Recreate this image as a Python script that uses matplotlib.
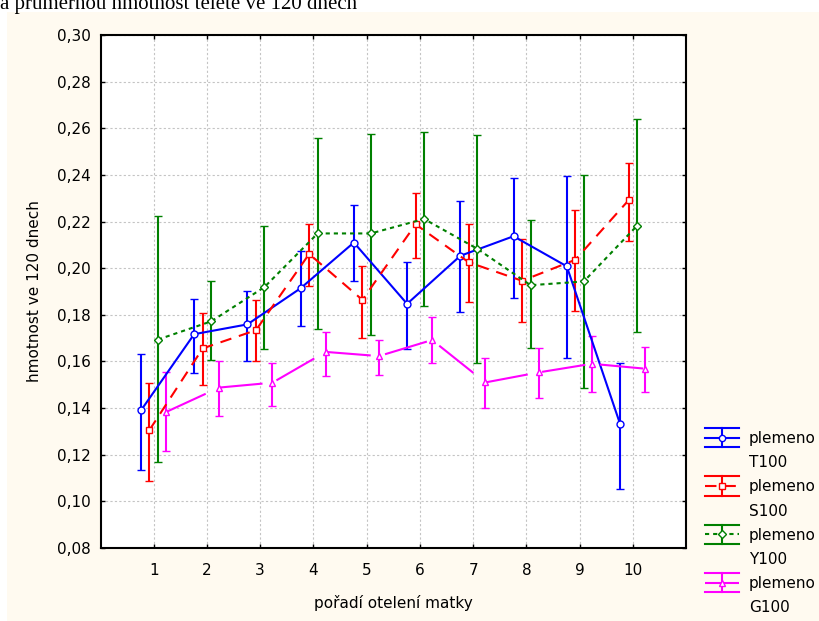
import matplotlib
matplotlib.use("Agg")
import matplotlib.pyplot as plt
from matplotlib.lines import Line2D
from matplotlib.patches import Rectangle
from matplotlib.legend_handler import HandlerBase

# Calving order (x axis) and mean calf weight at 120 days with interval bounds
poradi = [1, 2, 3, 4, 5, 6, 7, 8, 9, 10]

t100_mean = [0.1390, 0.1717, 0.1759, 0.1914, 0.2110, 0.1847, 0.2053, 0.2137, 0.2008, 0.1333]
t100_hi = [0.1634, 0.1866, 0.1901, 0.2075, 0.2272, 0.2028, 0.2290, 0.2387, 0.2394, 0.1594]
t100_lo = [0.1135, 0.1552, 0.1600, 0.1754, 0.1945, 0.1655, 0.1810, 0.1870, 0.1615, 0.1055]

s100_mean = [0.1306, 0.1656, 0.1734, 0.2061, 0.1864, 0.2188, 0.2025, 0.1946, 0.2036, 0.2291]
s100_hi = [0.1509, 0.1809, 0.1863, 0.2191, 0.2011, 0.2324, 0.2190, 0.2127, 0.2248, 0.2453]
s100_lo = [0.1087, 0.1500, 0.1600, 0.1923, 0.1700, 0.2043, 0.1854, 0.1769, 0.1818, 0.2115]

y100_mean = [0.1694, 0.1772, 0.1919, 0.2149, 0.2149, 0.2211, 0.2083, 0.1927, 0.1943, 0.2182]
y100_hi = [0.2225, 0.1943, 0.2182, 0.2560, 0.2576, 0.2586, 0.2572, 0.2208, 0.2400, 0.2639]
y100_lo = [0.1170, 0.1608, 0.1652, 0.1740, 0.1712, 0.1839, 0.1594, 0.1656, 0.1486, 0.1727]

g100_mean = [0.1383, 0.1488, 0.1509, 0.1641, 0.1623, 0.1692, 0.1510, 0.1553, 0.1590, 0.1569]
g100_hi = [0.1553, 0.1600, 0.1594, 0.1727, 0.1694, 0.1790, 0.1616, 0.1659, 0.1709, 0.1664]
g100_lo = [0.1214, 0.1368, 0.1410, 0.1539, 0.1543, 0.1593, 0.1402, 0.1442, 0.1469, 0.1469]

plemena = ["T100", "S100", "Y100", "G100"]
y_ticks = [0.08, 0.10, 0.12, 0.14, 0.16, 0.18, 0.20, 0.22, 0.24, 0.26, 0.28, 0.30]

# drawing style per breed: colour, dash pattern, marker, horizontal shift
styles = [
    ("#0000ff", (None, None), "o", -0.24),
    ("#ff0000", (0, (5.5, 3.8)), "s", -0.08),
    ("#008000", (0, (2.0, 1.9)), "D", 0.08),
    ("#ff00ff", (0, (21, 7)), "^", 0.23),
]

FONT = "DejaVu Sans"
FS = 11
CREAM = "#fffaf0"


class ErrLegendHandler(HandlerBase):
    """Legend glyph: series line with marker, vertical bar and two wide caps."""

    def __init__(self, color, ls, marker):
        super().__init__()
        self.color = color
        self.ls = ls
        self.marker = marker

    def create_artists(self, legend, orig_handle, xdescent, ydescent,
                       width, height, fontsize, trans):
        x0 = -xdescent
        x1 = x0 + width
        xm = (x0 + x1) / 2
        cy = height / 2 - ydescent
        dy = 0.64 * fontsize
        ls = "-" if self.ls == (None, None) else self.ls
        arts = [
            Line2D([x0, x1], [cy, cy], color=self.color, lw=1.5, linestyle=ls),
            Line2D([x0, x1], [cy + dy, cy + dy], color=self.color, lw=1.5),
            Line2D([x0, x1], [cy - dy, cy - dy], color=self.color, lw=1.5),
            Line2D([xm, xm], [cy - dy, cy + dy], color=self.color, lw=1.5),
            Line2D([xm], [cy], marker=self.marker, markersize=4.5 if self.marker != "D" else 4,
                   markerfacecolor="white", markeredgecolor=self.color, mew=1, linestyle="none"),
        ]
        for a in arts:
            a.set_transform(trans)
        return arts


fig = plt.figure(figsize=(8.19, 6.21), dpi=100, facecolor="white")
fig.patches.append(Rectangle((7 / 819, 0), 1, 1 - 12 / 621, transform=fig.transFigure,
                             facecolor=CREAM, edgecolor="none", zorder=-10))
fig.text(0.0, 1 - 8.5 / 621, "a průměrnou hmotnost telete ve 120 dnech",
         family="Liberation Serif", fontsize=15, va="baseline", ha="left")

ax = fig.add_axes([100.5 / 819, 1 - 548 / 621, (686 - 100.5) / 819, (548 - 35) / 621])
ax.set_facecolor("white")

series = [
    (t100_mean, t100_lo, t100_hi),
    (s100_mean, s100_lo, s100_hi),
    (y100_mean, y100_lo, y100_hi),
    (g100_mean, g100_lo, g100_hi),
]

handles, labels, hmap = [], [], {}
for (mean, lo, hi), (color, ls, marker, shift), name in zip(series, styles, plemena):
    xs = [p + shift for p in poradi]
    err = [[m - l for m, l in zip(mean, lo)], [h - m for m, h in zip(mean, hi)]]
    cont = ax.errorbar(xs, mean, yerr=err, color=color, lw=1.5, elinewidth=1.5,
                       capsize=2.6, capthick=1.5, marker=marker,
                       markersize=5 if marker != "D" else 4.5,
                       markerfacecolor="white", markeredgecolor=color, mew=1, zorder=3)
    line = cont.lines[0]
    if ls != (None, None):
        line.set_linestyle(ls)
    handles += [cont, Line2D([], [], color="none")]
    labels += ["plemeno", name]
    hmap[cont] = ErrLegendHandler(color, ls, marker)

ax.set_xlim(0, 11)
ax.set_ylim(0.08, 0.30)
ax.set_xticks(poradi)
ax.set_yticks(y_ticks)
ax.set_yticklabels([f"{v:.2f}".replace(".", ",") for v in y_ticks])
ax.grid(True, color="#c4c4c4", linestyle=(0, (2, 2)), linewidth=0.8)
ax.set_axisbelow(True)

for sp in ax.spines.values():
    sp.set_linewidth(1.5)
ax.tick_params(direction="in", length=3, width=1, top=True, right=True, labelsize=FS)
ax.tick_params(axis="x", pad=11)
ax.tick_params(axis="y", pad=7)
for lab in ax.get_xticklabels() + ax.get_yticklabels():
    lab.set_family(FONT)

ax.set_xlabel("pořadí otelení matky", family=FONT, fontsize=FS, va="center")
ax.xaxis.set_label_coords(0.5, -(603 - 548) / 513)
ax.set_ylabel("hmotnost ve 120 dnech", family=FONT, fontsize=FS, va="center")
ax.yaxis.set_label_coords(-(100.5 - 35) / 585.5, 0.5)

fig.legend(handles, labels, handler_map=hmap, loc="upper left",
           bbox_to_anchor=(705 / 819, 1 - 431 / 621), frameon=False,
           borderpad=0, borderaxespad=0, handlelength=2.22, handletextpad=0.66,
           labelspacing=0.6, prop={"family": FONT, "size": FS})

fig.savefig("out.png", dpi=100, facecolor=fig.get_facecolor())
